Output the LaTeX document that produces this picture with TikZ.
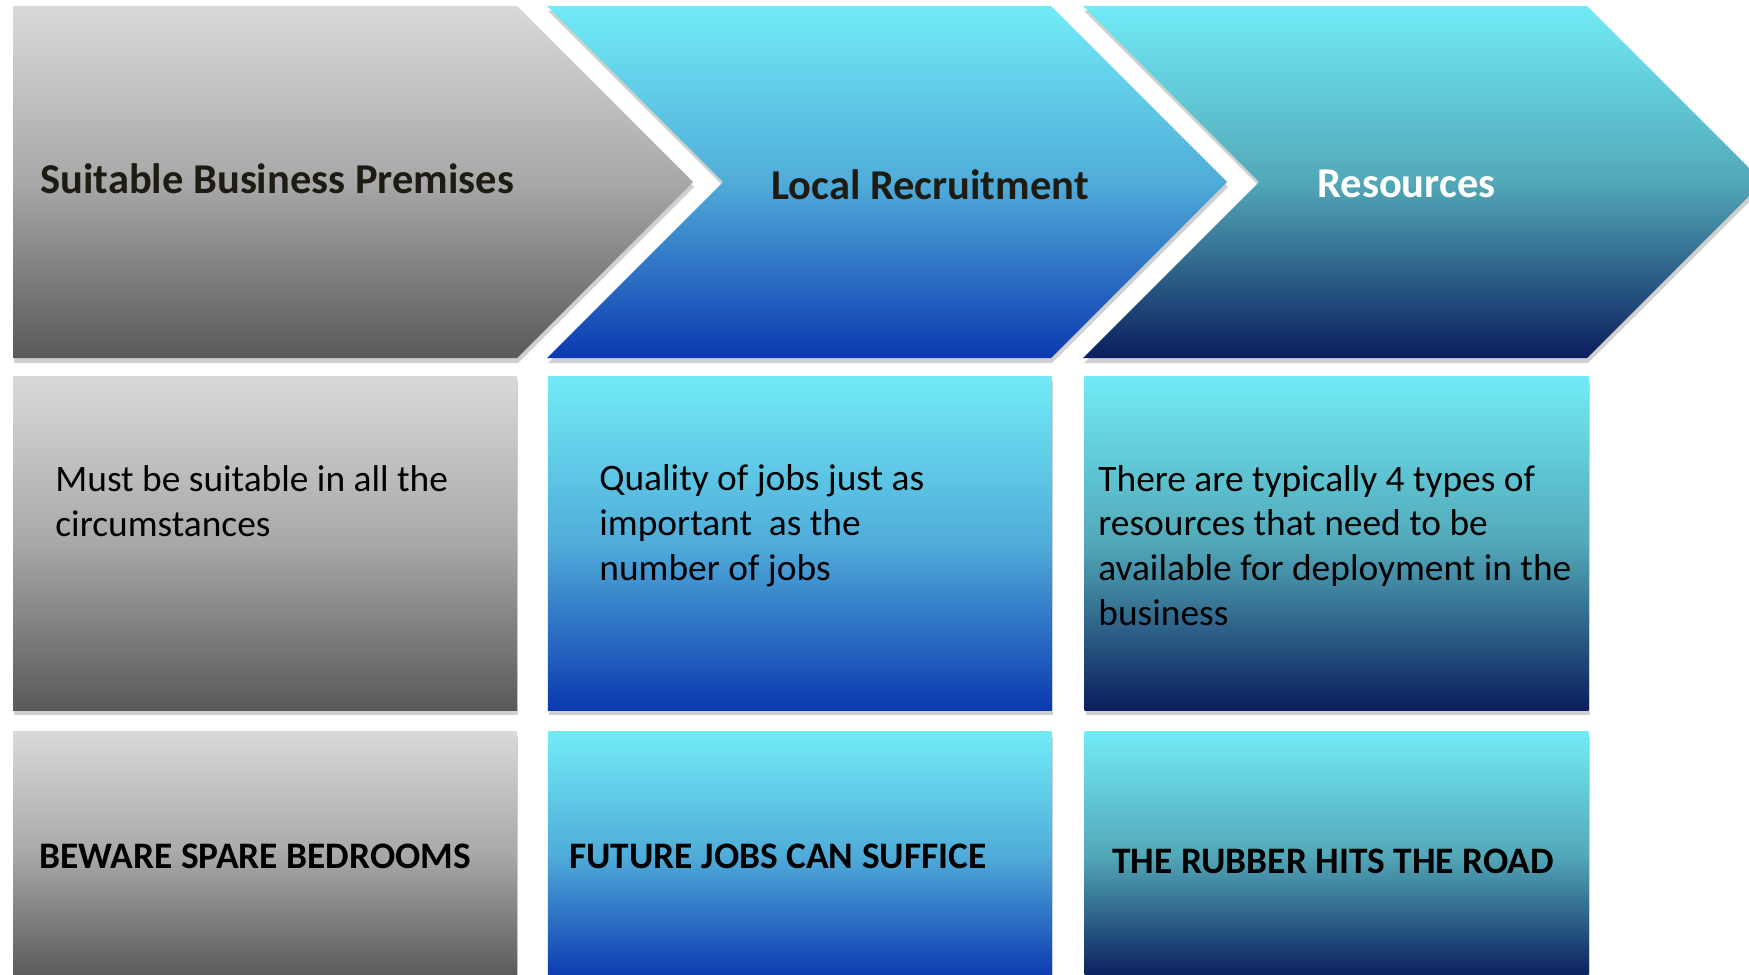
\documentclass[tikz,border=0pt]{standalone}
\usepackage{fontspec}
\setmainfont{Carlito}
\usepackage{xcolor}
\usetikzlibrary{positioning, shadows}

\definecolor{greytop}{HTML}{D9D9D9}
\definecolor{greymid}{HTML}{A8A8A8}
\definecolor{greybot}{HTML}{595959}
\definecolor{cyantop}{HTML}{71EBF6}
\definecolor{bluemid}{HTML}{50ACD9}
\definecolor{bluebot}{HTML}{0B39B0}
\definecolor{tealmid}{HTML}{52A8B8}
\definecolor{tealbot}{HTML}{0A1E5C}
\definecolor{headtext}{HTML}{1E1C12}
\definecolor{shadowgrey}{HTML}{D0D0D0}

\begin{document}
\begin{tikzpicture}[ x = 0.5pt, y = -0.5pt
                     , node distance = 10.5pt and 15pt
                     , font = \fontsize{18.7}{22.3}\selectfont
                     , greyfill/.style = { top color = greytop, bottom color = greybot
                                         , middle color = greymid }
                     , bluefill/.style = { top color = cyantop, bottom color = bluebot
                                         , middle color = bluemid }
                     , tealfill/.style = { top color = cyantop, bottom color = tealbot
                                         , middle color = tealmid }
                     , lift/.style = { drop shadow={shadow xshift=0.6pt,shadow yshift=-2.5pt,fill=shadowgrey,opacity=1} }
                     , card/.style = { rectangle, lift, inner sep = 0pt
                                     , minimum width = 252pt, minimum height = 167pt }
                     , heading/.style = { font = \fontsize{21.25}{26}\selectfont\bfseries }
                     , shout/.style = { font = \fontsize{18.7}{22.3}\selectfont\bfseries }
                     , every node/.style = { inner sep = 0pt, anchor = base west
                                           , align = left }
                     ]

  \useasboundingbox (0,0) rectangle (1749,974);
  \clip (0,0) rectangle (1749,974);

  % chevrons of the top row
  \path[greyfill, lift] (13,6) -- (517,6) -- (693,182) -- (517,358)
    -- (13,358) -- cycle;
  \path[bluefill, lift] (547,6) -- (1051,6) -- (1227,182) -- (1051,358)
    -- (547,358) -- (723,182) -- cycle;
  \path[tealfill, lift] (1083,6) -- (1587,6) -- (1763,182) -- (1587,358)
    -- (1083,358) -- (1259,182) -- cycle;

  \node (premises) [heading, text = headtext] at (40,193) {Suitable Business Premises};
  \node (recruitment) [heading, text = headtext] at (771,199) {Local Recruitment};
  \node (resources) [heading, text = white] at (1317,197) {Resources};

  % second and third rows
  \node (premisesbox) [card, greyfill, anchor = center] at (265,543) {};
  \node (recruitbox) [card, bluefill, anchor = center, right = of premisesbox] {};
  \node (resourcebox) [card, tealfill, anchor = center, right = 16pt of recruitbox] {};

  \node (bedroomsbox) [card, greyfill, minimum height = 123pt, below = of premisesbox] {};
  \node (futurebox) [card, bluefill, minimum height = 123pt, below = of recruitbox] {};
  \node (roadbox) [card, tealfill, minimum height = 123pt, below = of resourcebox] {};

  % the base anchor sits on the last line
  \node (suitable) at (55,536) {Must be suitable in all the\\ circumstances};
  \node (quality) at (599,580) {Quality of jobs just as\\ important~ as the\\ number of jobs};
  \node (typically) at (1098,625)
    {There are typically 4 types of\\ resources that need to be\\
     available for deployment in the\\ business};

  \node (bedrooms) [shout] at (39,868) {BEWARE SPARE BEDROOMS};
  \node (future) [shout] at (569,868) {FUTURE JOBS CAN SUFFICE};
  \node (road) [shout] at (1112,873) {THE RUBBER HITS THE ROAD};

\end{tikzpicture}
\end{document}
